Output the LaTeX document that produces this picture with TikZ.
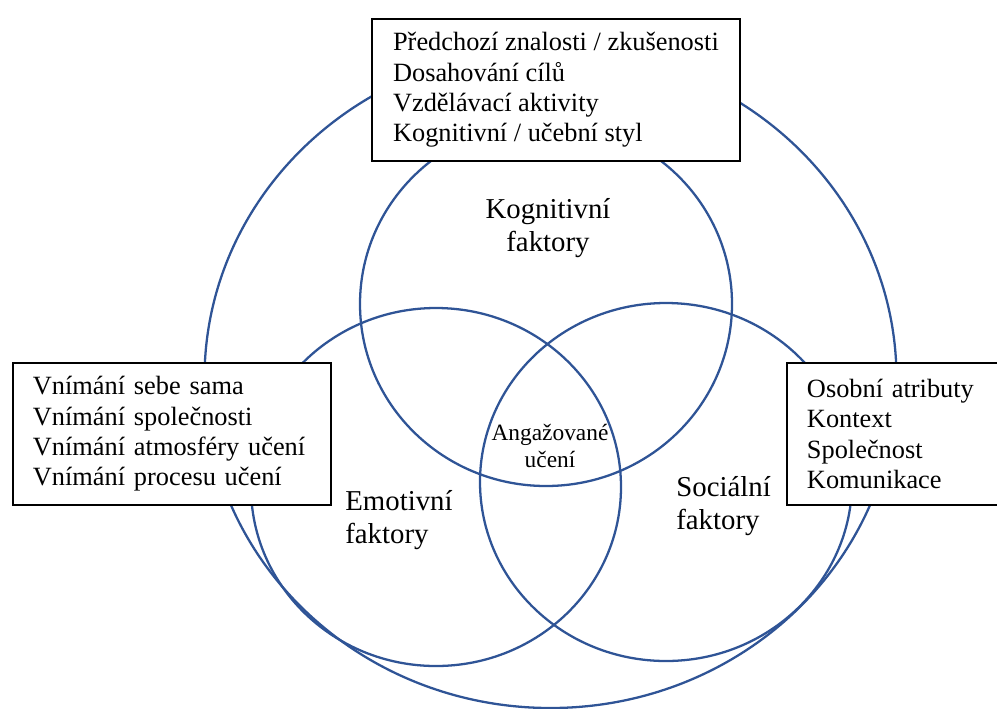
\documentclass[tikz,border=0pt]{standalone}
\usepackage{fontspec}
\setmainfont{Liberation Serif}
\usepackage{xcolor}
\usetikzlibrary{positioning, calc}

\definecolor{ringblue}{RGB}{47,84,150}

\tikzset{
  ring/.style={draw=ringblue, line width=1.3pt},
  listbox/.style={draw=black, line width=1.1pt, fill=white, align=left, anchor=north west,
    inner ysep=0pt, font=\fontsize{15}{17.3}\selectfont},
  factor/.style={inner sep=0pt, font=\fontsize{16.4}{18.7}\selectfont},
}

\begin{document}
\begin{tikzpicture}[x=0.02cm, y=-0.02cm]
      \useasboundingbox (0,0) rectangle (997,708);
      \clip (0,0) rectangle (997,708);
      % outer ring and the three factors
      \draw[ring] (550.5,378.5) ellipse[x radius=346, y radius=329.5];
      \draw[ring] (546,304) ellipse[x radius=186, y radius=182];
      \draw[ring] (436,487) ellipse[x radius=185, y radius=179];
      \draw[ring] (666,482) ellipse[x radius=186, y radius=179];
      % boxes
      \node[listbox, inner xsep=2mm, minimum width=73.6mm, minimum height=28.4mm] (cogbox) at (371,18)
        {Předchozí znalosti / zkušenosti\\Dosahování cílů\\Vzdělávací aktivity\\Kognitivní / učební styl};
      \node[listbox, inner xsep=4mm, text width=55.6mm, minimum height=28.4mm] (emobox) at (12,362)
        {Vnímání sebe sama\\Vnímání společnosti\\Vnímání atmosféry učení\\Vnímání procesu učení};
      \node[listbox, inner xsep=4mm, text width=40mm, minimum height=28.4mm] (socbox) at (786,362)
        {Osobní atributy\\Kontext\\Společnost\\Komunikace};
      % labels
      \node[factor, align=center] (cog) at (548,228) {Kognitivní\\faktory};
      \node[factor, align=left, anchor=west] (emo) at (345,520) {Emotivní\\faktory};
      \node[factor, align=left, anchor=west] (soc) at (676,506) {Sociální\\faktory};
      \node[inner sep=0pt, align=center, font=\fontsize{13.3}{15.6}\selectfont] (core) at (550,446)
        {Angažované\\učení};
\end{tikzpicture}
\end{document}
